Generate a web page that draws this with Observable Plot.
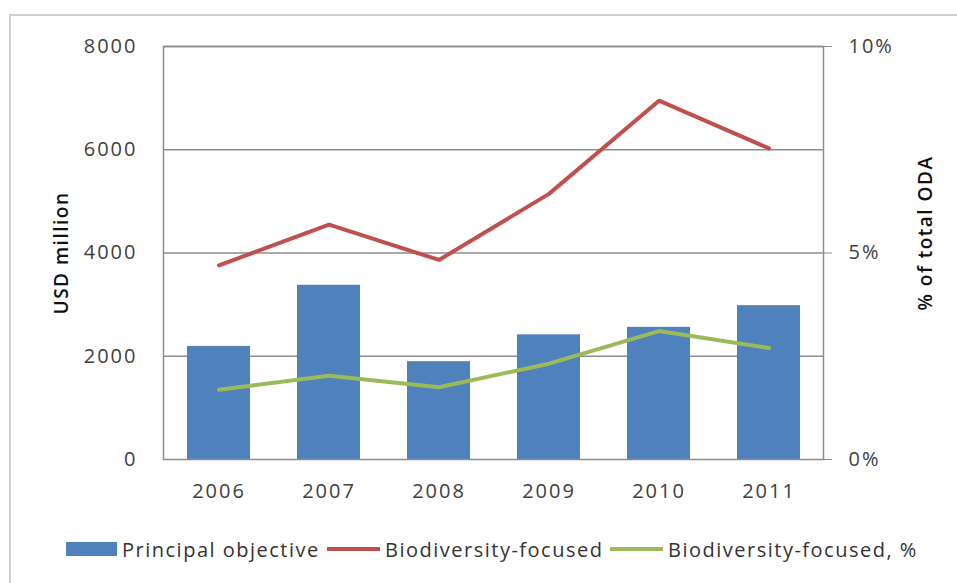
<!DOCTYPE html>
<html><head><meta charset="utf-8">
<script src="https://cdn.jsdelivr.net/npm/d3@7"></script>
<script src="https://cdn.jsdelivr.net/npm/@observablehq/plot@0.6"></script>
<style>
html,body{margin:0;padding:0;background:#fff}
body{width:957px;height:583px;overflow:hidden;position:relative;font-family:"Open Sans",sans-serif}
#frame{position:absolute;left:9px;top:14px;width:1000px;height:1000px;border:2px solid #cfcfcf;box-sizing:border-box}
#chart{position:absolute;left:0;top:0}
#chart svg text{letter-spacing:2px}
#chart svg text.lab{letter-spacing:1.5px}
#legend{position:absolute;left:0;top:537px;height:24px;width:957px;font-size:20px;color:#333;letter-spacing:1.5px}
.item{position:absolute;top:0;height:24px;display:flex;align-items:center;white-space:nowrap}
.sw{display:inline-block;margin-right:5px}
</style></head><body>
<div id="frame"></div>
<div id="chart"></div>
<div id="legend"></div>
<script>
const years = ["2006","2007","2008","2009","2010","2011"];
const principalObjective = [2190, 3375, 1895, 2415, 2560, 2980];
const biodiversityFocused = [3760, 4550, 3865, 5145, 6950, 6025];
const biodiversityFocusedPct = [1.69, 2.03, 1.75, 2.32, 3.11, 2.70];
const leftTicks = [0, 2000, 4000, 6000, 8000];
const rightTicks = [0, 5, 10];
const leftMax = 8000, rightMax = 10; // right axis 0–10% aligned to left 0–8000
const seriesNames = ["Principal objective", "Biodiversity-focused", "Biodiversity-focused, %"];
const seriesColors = ["#4F81BD", "#C0504D", "#9BBB59"];

const toLeft = p => p * leftMax / rightMax;
const rows = years.map((y, i) => ({
  year: y,
  principal: principalObjective[i],
  focused: biodiversityFocused[i],
  pct: toLeft(biodiversityFocusedPct[i])
}));

const chart = Plot.plot({
  width: 957,
  height: 520,
  marginLeft: 163,
  marginRight: 134,
  marginTop: 46,
  marginBottom: 61,
  style: {fontFamily: "Open Sans, sans-serif", fontSize: "20px", color: "#404040", background: "transparent", overflow: "visible"},
  x: {type: "band", domain: years, paddingInner: 0.43, paddingOuter: 0.215},
  y: {domain: [0, leftMax]},
  marks: [
    Plot.gridY(leftTicks.slice(1), {stroke: "#8c8c8c", strokeOpacity: 1, strokeWidth: 1.5}),
    Plot.barY(rows, {x: "year", y: "principal", fill: seriesColors[0]}),
    Plot.frame({stroke: "#8c8c8c", strokeWidth: 1.5}),
    Plot.line(rows, {x: "year", y: "focused", stroke: seriesColors[1], strokeWidth: 4, strokeLinejoin: "miter"}),
    Plot.line(rows, {x: "year", y: "pct", stroke: seriesColors[2], strokeWidth: 4, strokeLinejoin: "miter"}),
    Plot.axisY({anchor: "left", ticks: leftTicks, tickFormat: d => String(d), tickSize: 0, tickPadding: 26, label: null, fill: "#404040"}),
    Plot.axisY({anchor: "right", ticks: rightTicks.map(toLeft), tickFormat: d => (d * rightMax / leftMax) + "%", tickSize: 8, tickPadding: 17, stroke: "#8c8c8c", label: null, fill: "#404040"}),
    Plot.axisX({anchor: "bottom", tickSize: 0, tickPadding: 24, label: null, fill: "#404040"}),
    Plot.text(["USD million"], {frameAnchor: "left", dx: -102, rotate: -90, textAnchor: "middle", fontSize: 19, fontWeight: 600, fill: "#111", className: "lab"}),
    Plot.text(["% of total ODA"], {frameAnchor: "right", dx: 102, dy: -20, rotate: -90, textAnchor: "middle", fontSize: 19, fontWeight: 600, fill: "#111", className: "lab"})
  ]
});
chart.querySelectorAll("text").forEach(t => {
  if (t.textContent === "USD million" || t.textContent === "% of total ODA") t.style.letterSpacing = "1.5px";
});
document.getElementById("chart").appendChild(chart);

const legend = document.getElementById("legend");
const lefts = [66, 327, 610];
seriesNames.forEach((name, i) => {
  const item = document.createElement("div");
  item.className = "item";
  item.style.left = lefts[i] + "px";
  const sw = document.createElement("span");
  sw.className = "sw";
  if (i === 0) { sw.style.width = "51px"; sw.style.height = "14px"; }
  else { sw.style.width = "53px"; sw.style.height = "4px"; }
  sw.style.background = seriesColors[i];
  item.appendChild(sw);
  const t = document.createElement("span");
  t.textContent = name;
  item.appendChild(t);
  legend.appendChild(item);
});
</script>
</body></html>
